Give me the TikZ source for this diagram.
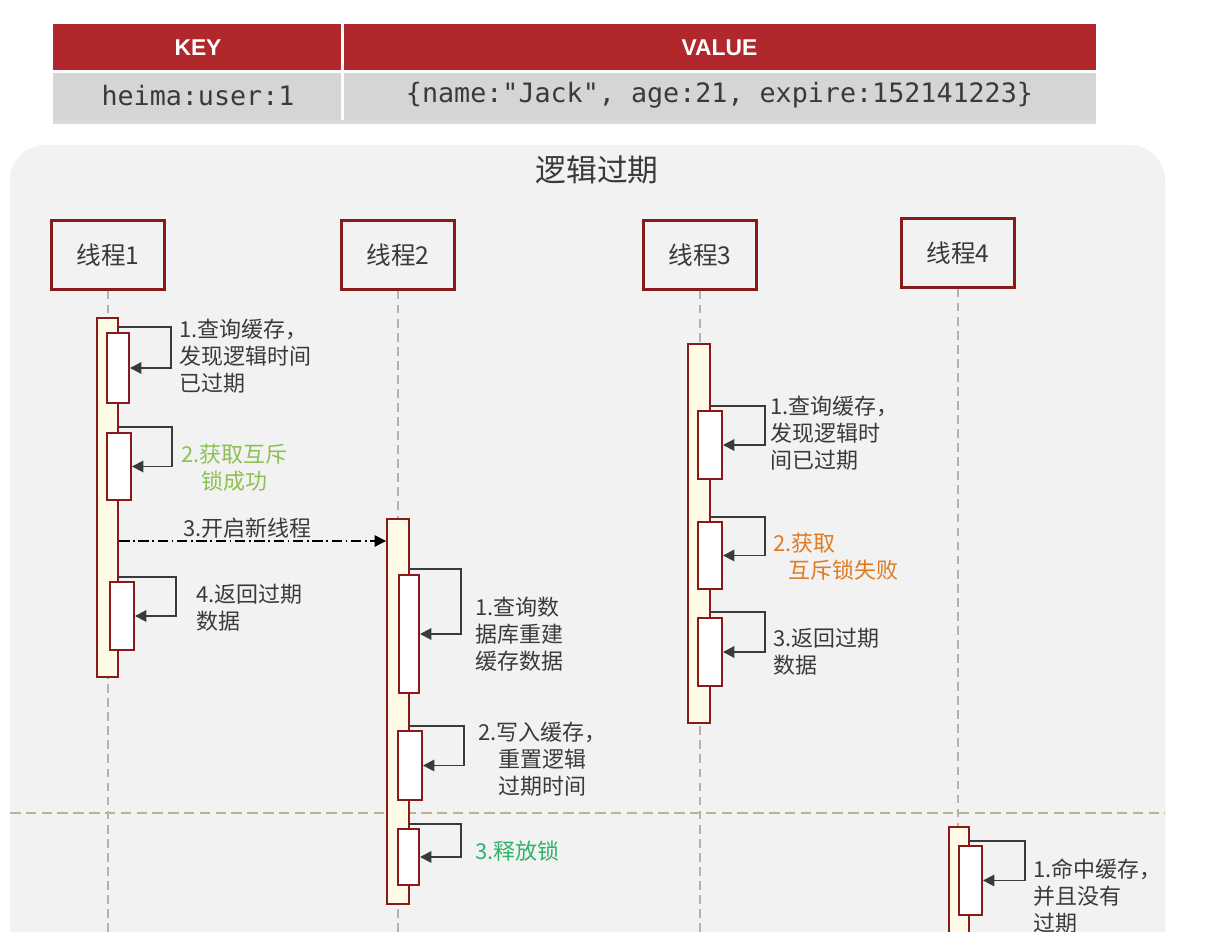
\documentclass[tikz,border=0pt]{standalone}
\usepackage{fontspec}
\setmainfont{Noto Sans CJK SC}
\newfontfamily\monofont{DejaVu Sans Mono}
\newfontfamily\headfont{Liberation Sans}
\usetikzlibrary{arrows.meta,positioning,calc,fit,shadows}

\definecolor{hdrred}{HTML}{B0282B}
\definecolor{rowgrey}{HTML}{D5D5D5}
\definecolor{bggrey}{HTML}{F2F2F2}
\definecolor{boxred}{HTML}{881A1A}
\definecolor{barfill}{HTML}{FFFBE6}
\definecolor{txtgrey}{HTML}{3A3A3A}
\definecolor{okgreen}{HTML}{8CC152}
\definecolor{relgreen}{HTML}{2DB36A}
\definecolor{failorange}{HTML}{E07B22}
\definecolor{sepline}{HTML}{B5B58F}

\begin{document}
\begin{tikzpicture}[x=0.02cm, y=-0.02cm,
        cell/.style={inner sep=0pt},
        keycol/.style={cell, minimum width=5.8cm},
        valcol/.style={cell, minimum width=15.06cm},
        head/.style={fill=hdrred, text=white, minimum height=0.94cm,
            font=\headfont\bfseries\fontsize{13}{15}\selectfont},
        row/.style={fill=rowgrey, text=txtgrey, minimum height=0.98cm,
            font=\monofont\fontsize{15.2}{17}\selectfont},
        thread/.style={draw=boxred, line width=1.3pt, fill=bggrey, minimum width=2.26cm,
            minimum height=1.38cm, text=txtgrey, font=\fontsize{14}{16}\selectfont},
        bar/.style={draw=boxred, line width=1.1pt, fill=barfill, inner sep=0pt},
        act/.style={draw=boxred, line width=1.1pt, fill=white, inner sep=0pt},
        loop/.style={draw=txtgrey, line width=1.1pt, -{Triangle[length=6.5pt,width=6.5pt]}},
        msg/.style={draw=black, line width=0.8pt, dash pattern=on 6pt off 2pt on 1pt off 2pt,
            -{Triangle[length=6.5pt,width=6.5pt]}},
        life/.style={draw=gray!60, line width=0.8pt, dash pattern=on 5pt off 3pt},
        lbl/.style={anchor=west, inner sep=0pt, text=txtgrey, align=left,
            font=\fontsize{12.5}{15.4}\selectfont}]
    \useasboundingbox (0,0) rectangle (1205,932);
    \clip (0,0) rectangle (1205,932);

    % key / value table
    \fill[rowgrey, drop shadow={shadow xshift=0pt, shadow yshift=-2.5pt, opacity=.3, fill=gray}]
        (53,24) rectangle (1096,120);
    \node[keycol, head] (hkey) at (198,47.5) {KEY};
    \node[valcol, head] (hval) at (719.5,47.5) {VALUE};
    \node[keycol, row] (rkey) at (198,95.5) {heima:user:1};
    \node[valcol, row] (rval) at (719.5,95.5) {\{name:"Jack", age:21, expire:152141223\}};
    \draw[white, line width=1.5pt] (hkey.south west) -- (hval.south east);
    \draw[white, line width=1.5pt] (hval.north west) -- (rval.south west);

    % panel
    \fill[bggrey, rounded corners=0.7cm] (10,145) rectangle (1165,990);
    \node[text=txtgrey, font=\fontsize{17.5}{20}\selectfont] (title) at (597,170) {逻辑过期};

    \coordinate (sl) at (10,813);
    \coordinate (sr) at (1165,813);
    \draw[sepline, line width=0.8pt, dash pattern=on 6pt off 3pt] (sl) -- (sr);

    % threads
    \node[thread] (t1) at (108,255) {线程1};
    \node[thread] (t2) at (398,255) {线程2};
    \node[thread] (t3) at (700,255) {线程3};
    \node[thread] (t4) at (958,253) {线程4};

    \coordinate (bot) at (0,932);
    \draw[life] (t1.south) -- (t1.south |- bot);
    \draw[life] (t2.south) -- (t2.south |- bot);
    \draw[life] (t3.south) -- (t3.south |- bot);
    \draw[life] (t4.south) -- (t4.south |- bot);

    % activations
    \node[bar, fit={(97,318) (118,677)}] (b1) {};
    \node[bar, fit={(387,519) (409,904)}] (b2) {};
    \node[bar, fit={(688,344) (710,723)}] (b3) {};
    \node[bar, fit={(949,827) (969,960)}] (b4) {};

    \node[act, fit={(107,333) (129,403)}] (a11) {};
    \node[act, fit={(107,433) (131,500)}] (a12) {};
    \node[act, fit={(110,582) (134,650)}] (a13) {};
    \node[act, fit={(399,575) (419,693)}] (a21) {};
    \node[act, fit={(398,731) (422,800)}] (a22) {};
    \node[act, fit={(398,829) (419,885)}] (a23) {};
    \node[act, fit={(698,411) (722,479)}] (a31) {};
    \node[act, fit={(698,522) (722,589)}] (a32) {};
    \node[act, fit={(698,618) (722,686)}] (a33) {};
    \node[act, fit={(959,846) (982,915)}] (a41) {};

    % self calls
    \draw[loop] ($(b1.east |- a11.north)+(0,-5)$) -| ($(a11.east)+(41,0)$) -- (a11.east);
    \draw[loop] ($(b1.east |- a12.north)+(0,-5)$) -| ($(a12.east)+(40,0)$) -- (a12.east);
    \draw[loop] ($(b1.east |- a13.north)+(0,-4)$) -| ($(a13.east)+(41,0)$) -- (a13.east);
    \draw[loop] ($(b2.east |- a21.north)+(0,-5)$) -| ($(a21.east)+(41,0)$) -- (a21.east);
    \draw[loop] ($(b2.east |- a22.north)+(0,-4)$) -| ($(a22.east)+(41,0)$) -- (a22.east);
    \draw[loop] ($(b2.east |- a23.north)+(0,-4)$) -| ($(a23.east)+(41,0)$) -- (a23.east);
    \draw[loop] ($(b3.east |- a31.north)+(0,-4)$) -| ($(a31.east)+(42,0)$) -- (a31.east);
    \draw[loop] ($(b3.east |- a32.north)+(0,-4)$) -| ($(a32.east)+(42,0)$) -- (a32.east);
    \draw[loop] ($(b3.east |- a33.north)+(0,-5)$) -| ($(a33.east)+(42,0)$) -- (a33.east);
    \draw[loop] ($(b4.east |- a41.north)+(0,-4)$) -| ($(a41.east)+(42,0)$) -- (a41.east);

    % new thread
    \coordinate (m) at (0,541);
    \draw[msg] (b1.east |- m) -- (b2.west |- m);

    % labels
    \node[lbl] (l11) at (179,356) {1.查询缓存，\\发现逻辑时间\\已过期};
    \node[lbl, align=center, text=okgreen] (l12) at (181,468) {2.获取互斥\\锁成功};
    \node[lbl] (l13) at (183,528) {3.开启新线程};
    \node[lbl] (l14) at (196,608) {4.返回过期\\数据};
    \node[lbl] (l21) at (475,634) {1.查询数\\据库重建\\缓存数据};
    \node[lbl, align=center] (l22) at (478,759) {2.写入缓存，\\重置逻辑\\过期时间};
    \node[lbl, text=relgreen] (l23) at (475,851) {3.释放锁};
    \node[lbl] (l31) at (770,433) {1.查询缓存，\\发现逻辑时\\间已过期};
    \node[lbl, text=failorange] (l32) at (773,557) {2.获取\\\hspace*{0.7em}互斥锁失败};
    \node[lbl] (l33) at (773,652) {3.返回过期\\数据};
    \node[lbl] (l41) at (1033,896) {1.命中缓存，\\并且没有\\过期};
\end{tikzpicture}
\end{document}
